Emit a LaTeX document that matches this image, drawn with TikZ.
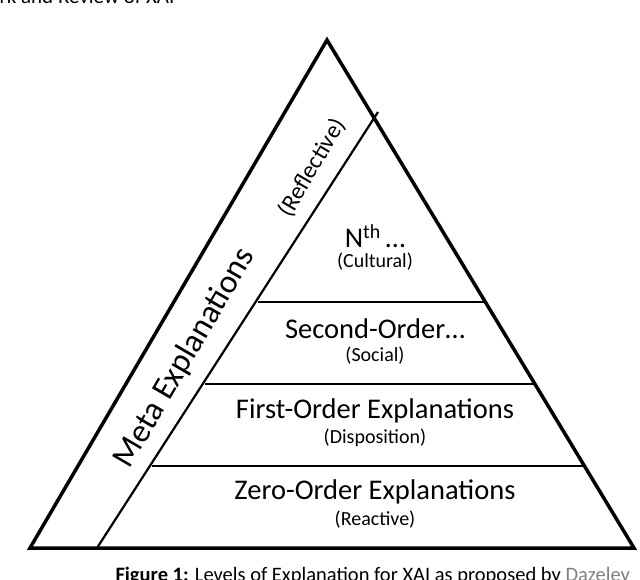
\documentclass[tikz,border=0pt]{standalone}
\usepackage{fontspec}
\setmainfont{Carlito}
\begin{document}
\begin{tikzpicture}[x=1pt,y=-1pt,
  big/.style={font=\fontsize{28.5}{30}\selectfont},
  small/.style={font=\fontsize{20}{22}\selectfont},
  edge/.style={line width=3.5pt,line join=miter}]
\useasboundingbox (0,0) rectangle (640,579);
\begin{scope}
\clip (0,0) rectangle (640,579);
\node[anchor=west,font=\fontsize{21}{22}\selectfont] (hdr) at (-4,-4) {rk and Review of XAI};
\node[anchor=west,font=\fontsize{20.5}{22}\selectfont] (cap) at (112,576) {\textbf{Figure 1:} Levels of Explanation for XAI as proposed by \textcolor{gray}{Dazeley}};
\end{scope}
\coordinate (A) at (327,40);
\coordinate (L) at (30,548);
\coordinate (R) at (634,548);
\coordinate (I) at (378,112);
\coordinate (IL) at (97,548);
\draw[edge] (A) -- (L) -- (R) -- cycle;
\draw[line width=2.2pt] (I) -- (IL);
\draw[line width=2.2pt] (258,302) -- (485,302);
\draw[line width=2.2pt] (205,384) -- (534,384);
\draw[line width=2.2pt] (152,466) -- (584,466);
\node[big] (n) at (375,236) {N\textsuperscript{th}\,\dots};
\node[small] (nc) at (375,262) {(Cultural)};
\node[big] (s) at (375,329) {Second-Order\dots};
\node[small] (sc) at (375,356) {(Social)};
\node[big] (f) at (375,411) {First-Order Explanations};
\node[small] (fc) at (375,438) {(Disposition)};
\node[big] (z) at (375,492) {Zero-Order Explanations};
\node[small] (zc) at (375,520) {(Reactive)};
\node[font=\fontsize{33}{36}\selectfont,rotate=59.7] (m) at (185,358) {Meta Explanations};
\node[font=\fontsize{24}{28}\selectfont,rotate=59.7] (r) at (312,168) {(Reflective)};
\end{tikzpicture}
\end{document}
